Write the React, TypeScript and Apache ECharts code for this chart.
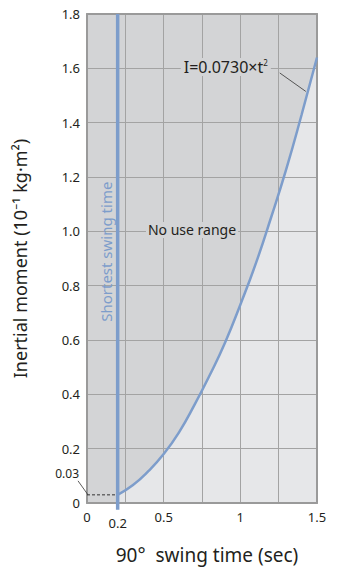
import React, { useEffect, useRef } from 'react';
import * as echarts from 'echarts';

// Values
const swingTime = [0.2, 0.3, 0.4, 0.5, 0.6, 0.7, 0.8, 0.9, 1.0, 1.1, 1.2, 1.3, 1.4, 1.5];
const inertia = [0.03, 0.066, 0.117, 0.18, 0.26, 0.36, 0.47, 0.59, 0.73, 0.88, 1.05, 1.23, 1.43, 1.64];
const xTickLabels = [0, 0.5, 1, 1.5];
const shortestTime = 0.2;
const shortestInertia = 0.03;
const yMax = 1.8;
const xMax = 1.5;

const FONT = '"Noto Sans", "Open Sans", sans-serif';
const TXT = '#231f20';
const BLUE = '#7d9dcb';
const DARK = '#d3d4d6';
const LIGHT = '#e6e7e9';
const GRIDC = '#a3a3a3';
const BORDER = '#9a9a9a';

export default function App() {
  const ref = useRef<HTMLDivElement>(null);
  useEffect(() => {
    if (!ref.current) return;
    const chart = echarts.init(ref.current, null, { renderer: 'svg' });
    const curve = swingTime.map((t, i) => [t, inertia[i]]);
    const axisCommon = { z: 3 };
    chart.setOption({
      animation: false,
      textStyle: { fontFamily: FONT },
      grid: { left: 87, right: 26, top: 14, bottom: 70, show: true, backgroundColor: DARK, borderWidth: 0 },
      xAxis: [
        {
          ...axisCommon,
          type: 'value', min: 0, max: xMax, interval: 0.25,
          axisLine: { show: true, lineStyle: { color: BORDER, width: 2 } },
          axisTick: { show: false },
          splitLine: { show: true, lineStyle: { color: GRIDC, width: 1 } },
          axisLabel: {
            margin: 7, color: TXT, fontSize: 13, fontFamily: FONT,
            formatter: (v: number) => (xTickLabels.some((t) => Math.abs(t - v) < 1e-6) ? String(v) : ''),
          },
        },
        {
          ...axisCommon,
          type: 'value', min: 0, max: xMax, position: 'top',
          axisLine: { show: true, onZero: false, lineStyle: { color: BORDER, width: 2 } },
          axisTick: { show: false }, axisLabel: { show: false }, splitLine: { show: false },
        },
      ],
      yAxis: [
        {
          ...axisCommon,
          type: 'value', min: 0, max: yMax, interval: 0.2,
          axisLine: { show: true, lineStyle: { color: BORDER, width: 2 } },
          axisTick: { show: false },
          splitLine: { show: true, lineStyle: { color: GRIDC, width: 1 } },
          axisLabel: {
            margin: 7, color: TXT, fontSize: 13, fontFamily: FONT,
            formatter: (v: number) => (v === 0 ? '0' : v.toFixed(1)),
          },
        },
        {
          ...axisCommon,
          type: 'value', min: 0, max: yMax, position: 'right',
          axisLine: { show: true, onZero: false, lineStyle: { color: BORDER, width: 2 } },
          axisTick: { show: false }, axisLabel: { show: false }, splitLine: { show: false },
        },
      ],
      series: [
        {
          type: 'line', z: 1, data: curve, smooth: true, symbol: 'none',
          lineStyle: { width: 0, opacity: 0 },
          areaStyle: { color: LIGHT, opacity: 1, origin: 'start' },
        },
        {
          type: 'line', z: 5, data: curve, smooth: true, symbol: 'none',
          lineStyle: { color: BLUE, width: 2.5 },
        },
        {
          type: 'line', z: 4, symbol: 'none',
          data: [[0, shortestInertia], [shortestTime, shortestInertia]],
          lineStyle: { color: '#333', width: 1, type: [3, 2] },
        },
        {
          type: 'line', z: 6, symbol: 'none', clip: false,
          data: [[shortestTime, -0.025], [shortestTime, yMax]],
          lineStyle: { color: BLUE, width: 3.5 },
        },
      ],
    });

    const px = (x: number, y: number) => chart.convertToPixel({ gridIndex: 0 }, [x, y]) as number[];
    const p02 = px(shortestTime, 0);
    const p003 = px(0, shortestInertia);
    const pNo = px(0.685, 1.005);
    const pFormula = px(0.905, 1.605);
    const pCurve = px(1.44, 1.515);
    const pShort = px(0.2, 0.925);
    const gLeft = px(0, 0)[0];
    const gRight = px(xMax, 0)[0];
    const gTop = px(0, yMax)[1];
    const gBottom = px(0, 0)[1];

    chart.setOption({
      graphic: [
        {
          type: 'text', x: p02[0], y: p02[1] + 20, z: 10,
          style: { text: '0.2', fill: TXT, font: `13px ${FONT}`, align: 'center', verticalAlign: 'middle' },
        },
        {
          type: 'text', x: p003[0] - 8, y: p003[1] - 21, z: 10,
          style: { text: '0.03', fill: TXT, font: `12px ${FONT}`, align: 'right', verticalAlign: 'middle' },
        },
        {
          type: 'line', z: 10,
          shape: { x1: p003[0] - 9, y1: p003[1] - 14, x2: p003[0] + 1, y2: p003[1] },
          style: { stroke: '#333', lineWidth: 0.8 },
        },
        {
          type: 'text', x: pNo[0], y: pNo[1], z: 10,
          style: {
            text: 'No use range', fill: TXT, font: `14px ${FONT}`, align: 'center', verticalAlign: 'middle',
            backgroundColor: DARK, padding: [1, 2],
          },
        },
        {
          type: 'text', x: pFormula[0], y: pFormula[1], z: 10,
          style: {
            text: 'I=0.0730×t{s|2}', fill: TXT, font: `16px ${FONT}`, align: 'center', verticalAlign: 'middle',
            backgroundColor: DARK, padding: [1, 3],
            rich: { s: { fontSize: 8, fontFamily: FONT, fill: TXT, verticalAlign: 'top', padding: [0, 0, 8, 0] } },
          },
        },
        {
          type: 'line', z: 10,
          shape: { x1: pFormula[0] + 54, y1: pFormula[1] + 6, x2: pCurve[0] - 2, y2: pCurve[1] },
          style: { stroke: '#333', lineWidth: 0.8 },
        },
        {
          type: 'text', x: pShort[0] - 12, y: pShort[1], rotation: Math.PI / 2, z: 10,
          style: { text: 'Shortest swing time', fill: BLUE, font: `15px ${FONT}`, align: 'center', verticalAlign: 'middle' },
        },
        {
          type: 'text', x: 20, y: (gTop + gBottom) / 2, rotation: Math.PI / 2, z: 10,
          style: { text: 'Inertial moment (10⁻¹ kg·m²)', fill: TXT, font: `18px ${FONT}`, align: 'center', verticalAlign: 'middle' },
        },
        {
          type: 'text', x: (gLeft + gRight) / 2 + 5, y: gBottom + 52, z: 10,
          style: { text: '90°  swing time (sec)', fill: TXT, font: `19px ${FONT}`, align: 'center', verticalAlign: 'middle' },
        },
      ],
    });
    return () => chart.dispose();
  }, []);
  return <div ref={ref} style={{ width: 343, height: 573, position: 'absolute', left: 0, top: 0 }} />;
}
